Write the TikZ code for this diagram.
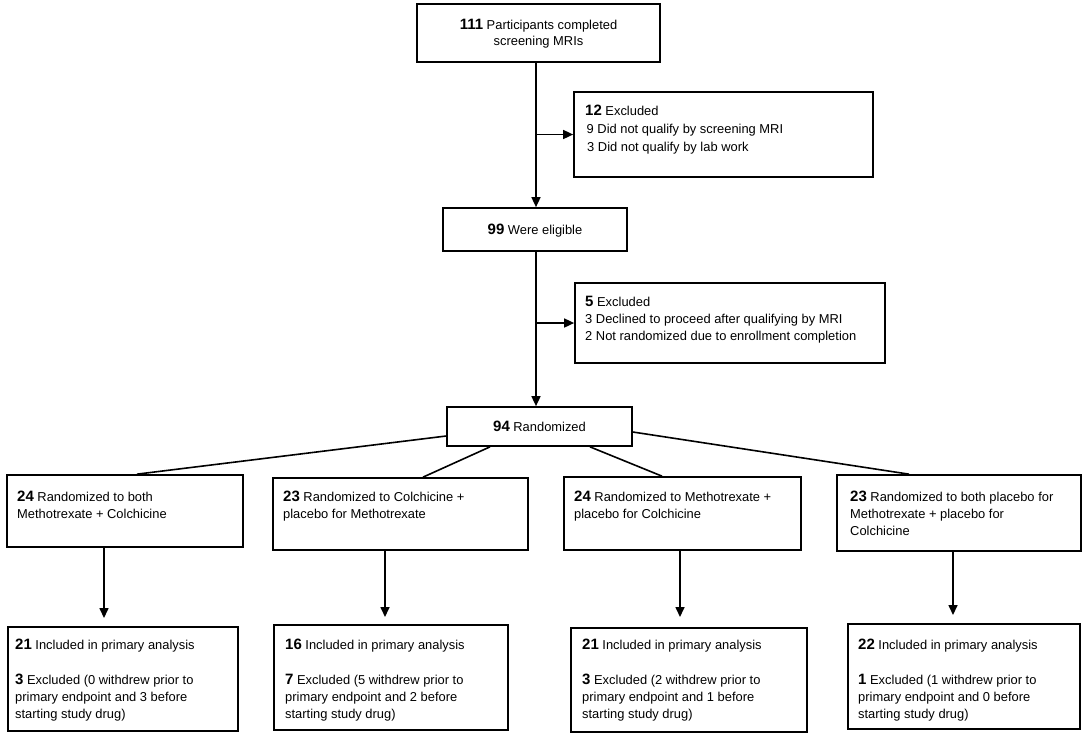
\documentclass[tikz,border=0pt]{standalone}
\usepackage{fontspec}
\setmainfont{Liberation Sans}
\usetikzlibrary{arrows.meta}
\newcommand\nb[1]{{\fontsize{15}{17}\selectfont\bfseries #1}}
\begin{document}
\begin{tikzpicture}[x=1pt,y=-1pt,
  box/.style={draw, line width=1.7pt, inner sep=0pt},
  txt/.style={inner sep=0pt, anchor=base west, align=left, font=\fontsize{12.9}{17}\selectfont},
  ctxt/.style={inner sep=0pt, anchor=base, align=center, font=\fontsize{12.9}{16}\selectfont},
  ln/.style={line width=1.6pt},
  arr/.style={line width=1.6pt, -{Triangle[length=10pt,width=9pt]}}]
\fill[white] (0,0) rectangle (1084,740);
\useasboundingbox (0,0) rectangle (1084,740);
% boxes
\node[box, minimum width=243, minimum height=58] (top) at (538.5,33) {};
\node[box, minimum width=299, minimum height=85] (ex1) at (723.5,134.5) {};
\node[box, minimum width=184, minimum height=43] (elig) at (535,229.5) {};
\node[box, minimum width=310, minimum height=80] (ex2) at (730,323) {};
\node[box, minimum width=185, minimum height=39] (rand) at (539.5,426.5) {};
\node[box, minimum width=236, minimum height=72] (m1) at (125,511) {};
\node[box, minimum width=255, minimum height=72] (m2) at (400.5,514) {};
\node[box, minimum width=237, minimum height=73] (m3) at (682.5,513.5) {};
\node[box, minimum width=244, minimum height=76] (m4) at (959,513) {};
\node[box, minimum width=230, minimum height=104] (b1) at (123,679) {};
\node[box, minimum width=234, minimum height=105] (b2) at (391,677.5) {};
\node[box, minimum width=236, minimum height=104] (b3) at (689,680) {};
\node[box, minimum width=232, minimum height=105] (b4) at (964,676.5) {};
% texts (base anchor = baseline of the last line)
\node[ctxt] (ttop) at (538.5,45) {\nb{111} Participants completed\\screening MRIs};
\node[txt, font=\fontsize{12.9}{18}\selectfont] (tex1) at (585,151) {\nb{12} Excluded\\\hspace*{1.5pt}9 Did not qualify by screening MRI\\\hspace*{2pt}3 Did not qualify by lab work};
\node[ctxt] (telig) at (535,234) {\nb{99} Were eligible};
\node[txt] (tex2) at (585,340) {\nb{5} Excluded\\3 Declined to proceed after qualifying by MRI\\2 Not randomized due to enrollment completion};
\node[ctxt] (trand) at (539.5,431) {\nb{94} Randomized};
\node[txt] (tm1) at (17,518) {\nb{24} Randomized to both\\Methotrexate + Colchicine};
\node[txt] (tm2) at (283,518) {\nb{23} Randomized to Colchicine +\\placebo for Methotrexate};
\node[txt] (tm3) at (574,518) {\nb{24} Randomized to Methotrexate +\\placebo for Colchicine};
\node[txt] (tm4) at (850,535) {\nb{23} Randomized to both placebo for\\Methotrexate + placebo for\\Colchicine};
\node[txt] (tb1) at (15,718) {\nb{21} Included in primary analysis\\[18pt]\nb{3} Excluded (0 withdrew prior to\\primary endpoint and 3 before\\starting study drug)};
\node[txt] (tb2) at (285,718) {\nb{16} Included in primary analysis\\[18pt]\nb{7} Excluded (5 withdrew prior to\\primary endpoint and 2 before\\starting study drug)};
\node[txt] (tb3) at (582,718) {\nb{21} Included in primary analysis\\[18pt]\nb{3} Excluded (2 withdrew prior to\\primary endpoint and 1 before\\starting study drug)};
\node[txt] (tb4) at (858,718) {\nb{22} Included in primary analysis\\[18pt]\nb{1} Excluded (1 withdrew prior to\\primary endpoint and 0 before\\starting study drug)};
% coordinates
\coordinate (mx) at (536,0);
\coordinate (j1) at (536,134.5);
\coordinate (j2) at (536,323);
\coordinate (r1) at (0,436);
\coordinate (r4) at (0,432);
\coordinate (s2) at (490,0);
\coordinate (s3) at (590,0);
\coordinate (e1) at (137,0);
\coordinate (e2) at (423,0);
\coordinate (e3) at (662,0);
\coordinate (e4) at (909,0);
\coordinate (t1) at (104,618);
\coordinate (t2) at (385,617);
\coordinate (t3) at (680,617);
\coordinate (t4) at (953,615);
% connectors
\draw[arr] (top.south -| mx) -- (elig.north -| mx);
\draw[arr] (elig.south -| mx) -- (rand.north -| mx);
\draw[arr] (j1) -- (ex1.west);
\draw[arr] (j2) -- (ex2.west);
\draw[ln] (rand.west |- r1) -- (m1.north -| e1);
\draw[ln] (rand.south -| s2) -- (m2.north -| e2);
\draw[ln] (rand.south -| s3) -- (m3.north -| e3);
\draw[ln] (rand.east |- r4) -- (m4.north -| e4);
\draw[arr] (m1.south -| t1) -- (t1);
\draw[arr] (m2.south -| t2) -- (t2);
\draw[arr] (m3.south -| t3) -- (t3);
\draw[arr] (m4.south -| t4) -- (t4);
\end{tikzpicture}
\end{document}
